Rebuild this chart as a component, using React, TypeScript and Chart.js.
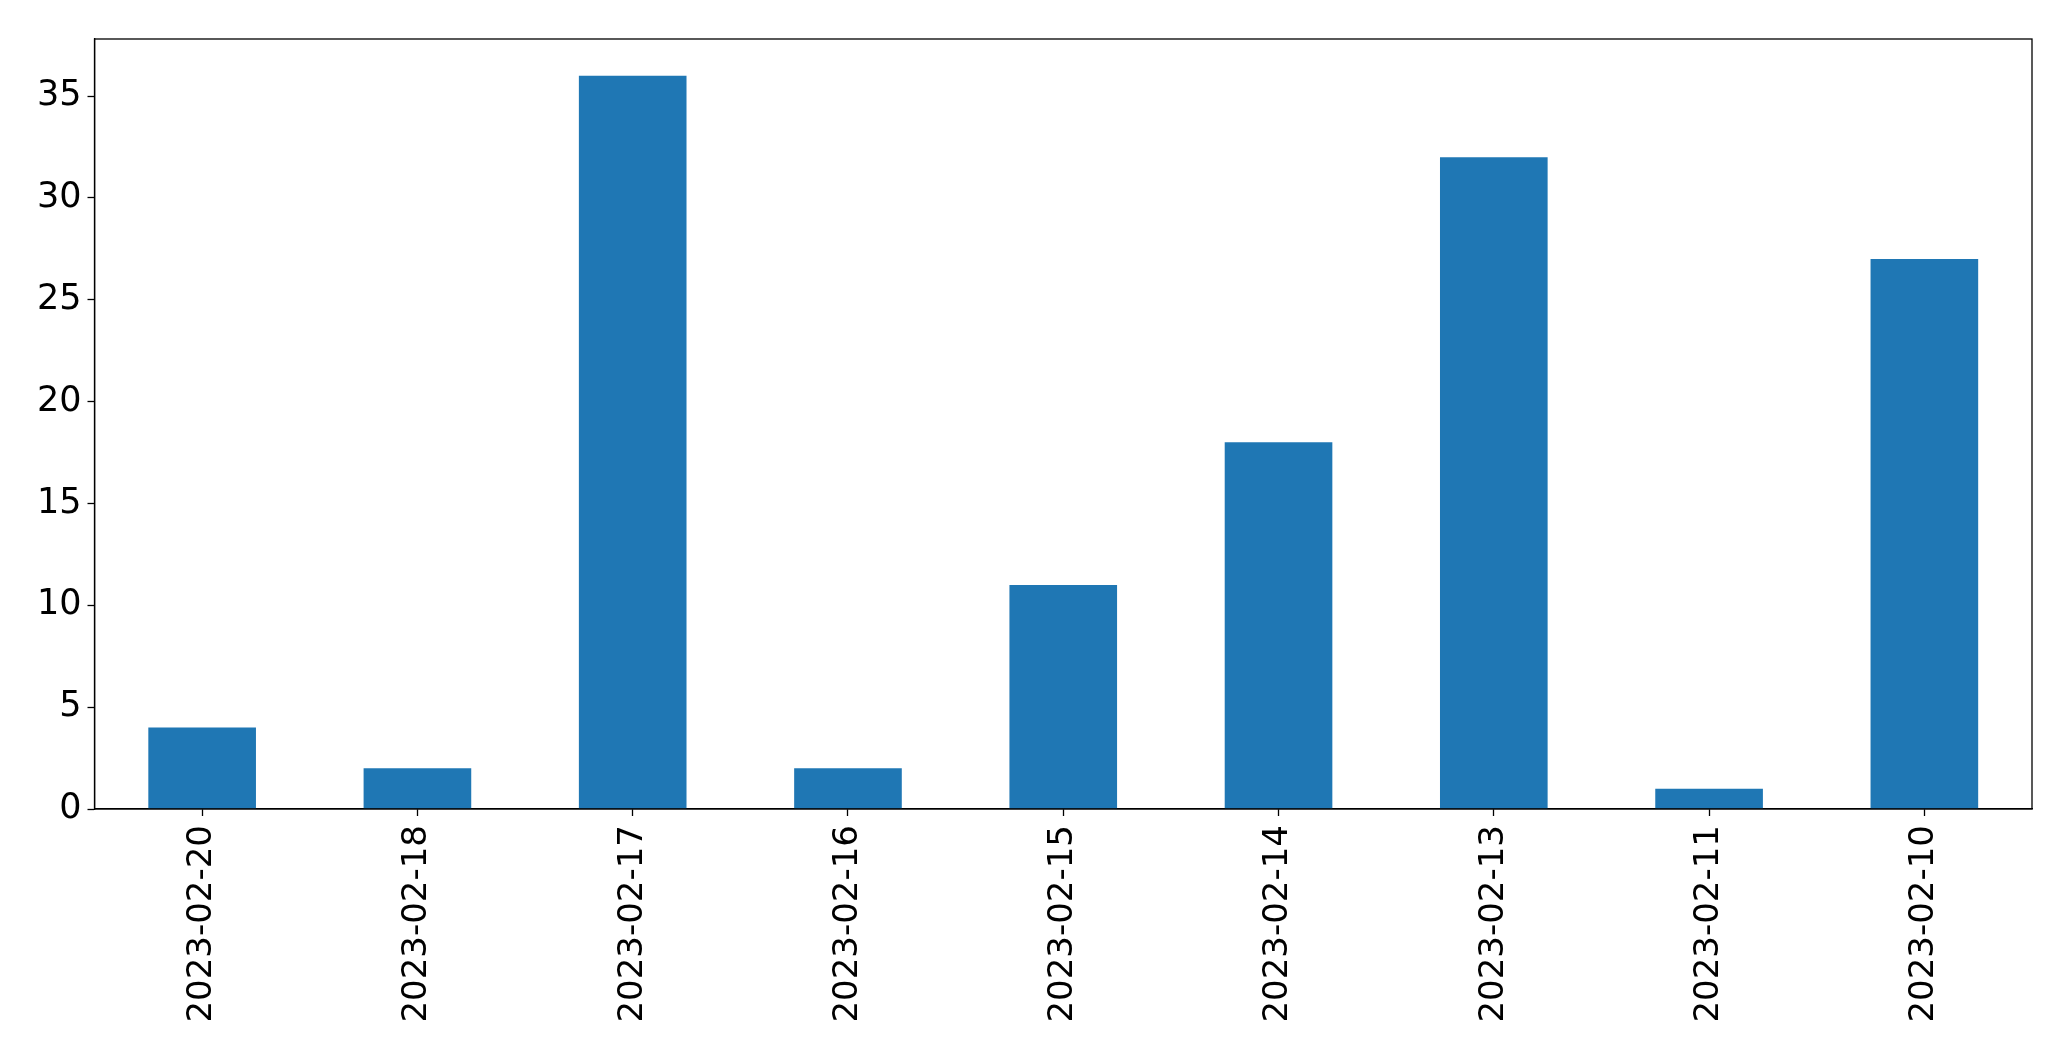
import React, { useEffect, useRef } from "react";
import { Chart, registerables } from "chart.js";

Chart.register(...registerables);

const categories = [
  "2023-02-20",
  "2023-02-18",
  "2023-02-17",
  "2023-02-16",
  "2023-02-15",
  "2023-02-14",
  "2023-02-13",
  "2023-02-11",
  "2023-02-10",
];
const counts = [4, 2, 36, 2, 11, 18, 32, 1, 27];
const yTickValues = [0, 5, 10, 15, 20, 25, 30, 35];
const yMax = 37.8;

const framePlugin = {
  id: "frame",
  afterDraw(chart: any) {
    const { ctx, chartArea } = chart;
    ctx.save();
    ctx.strokeStyle = "#000";
    ctx.lineWidth = 1.3;
    ctx.strokeRect(
      chartArea.left,
      chartArea.top,
      chartArea.right - chartArea.left,
      chartArea.bottom - chartArea.top
    );
    ctx.restore();
  },
};

export default function App() {
  const ref = useRef<HTMLCanvasElement>(null);
  useEffect(() => {
    if (!ref.current) return;
    const font = { family: "'DejaVu Sans'", size: 34 };
    const chart = new Chart(ref.current, {
      type: "bar",
      data: {
        labels: categories,
        datasets: [
          {
            data: counts,
            backgroundColor: "#1f77b4",
            borderWidth: 0,
            barPercentage: 0.5,
            categoryPercentage: 1,
          },
        ],
      },
      options: {
        animation: false,
        responsive: false,
        maintainAspectRatio: false,
        devicePixelRatio: 1,
        layout: { padding: { left: 0, top: 39, right: 39, bottom: 0 } },
        plugins: {
          legend: { display: false },
          tooltip: { enabled: false },
        },
        scales: {
          x: {
            type: "category",
            offset: true,
            grid: {
              display: true,
              drawOnChartArea: false,
              drawTicks: true,
              tickLength: 7,
              tickColor: "#000",
              tickWidth: 1.3,
              offset: false,
            },
            border: { display: true, color: "#000", width: 1.3 },
            ticks: {
              font,
              color: "#000",
              maxRotation: 90,
              minRotation: 90,
              autoSkip: false,
              padding: 9,
            },
            afterFit(scale: any) {
              scale.height = 1061 - 809;
            },
          },
          y: {
            type: "linear",
            min: 0,
            max: yMax,
            grid: {
              display: true,
              drawOnChartArea: false,
              drawTicks: true,
              tickLength: 7,
              tickColor: "#000",
              tickWidth: 1.3,
            },
            border: { display: true, color: "#000", width: 1.3 },
            ticks: {
              font: { family: "'DejaVu Sans'", size: 35 },
              color: "#000",
              padding: 6,
            },
            afterBuildTicks(scale: any) {
              scale.ticks = yTickValues.map((v) => ({ value: v }));
            },
            afterFit(scale: any) {
              scale.width = 94.5;
            },
          },
        },
      },
      plugins: [framePlugin],
    });
    return () => chart.destroy();
  }, []);
  return (
    <div style={{ position: "fixed", left: 0, top: 0, width: 2071, height: 1061, background: "#fff" }}>
      <canvas ref={ref} width={2071} height={1061} style={{ width: 2071, height: 1061 }} />
    </div>
  );
}
